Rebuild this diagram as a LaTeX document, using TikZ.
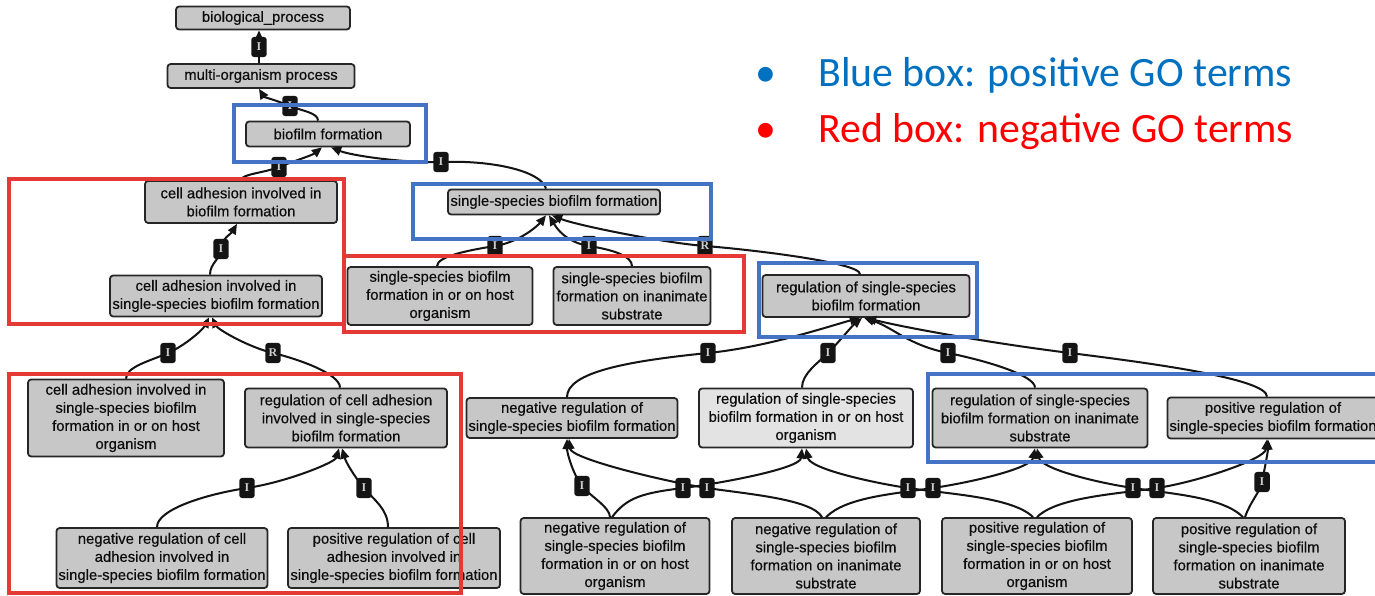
\documentclass[tikz,border=0pt]{standalone}
\usepackage{fontspec}
\usepackage{graphicx}
\setmainfont{Liberation Sans}
\newfontfamily\nodefont[FakeBold=0.45]{Liberation Sans}
\newfontfamily\legendfont{Carlito}
\newfontfamily\labfont{Liberation Serif}
\usetikzlibrary{arrows.meta,calc}
\definecolor{hlblue}{RGB}{68,114,196}
\definecolor{hlred}{RGB}{229,57,53}
\definecolor{txtblue}{RGB}{0,112,192}
\definecolor{txtred}{RGB}{255,0,0}
\def\px{0.02cm}
\tikzset{
  goterm/.style={draw=black!85, line width=1pt, fill=black!22, rounded corners=1.8pt,
    align=center, inner sep=1pt, font=\nodefont\fontsize{8.45}{10.3}\selectfont, text=black!95},
  golight/.style={goterm, fill=black!11},
  lab/.style={fill=black!92, rounded corners=1.6pt, minimum width=8.8pt, minimum height=11.4pt,
    inner sep=0pt, text=white!80!black, font=\labfont\fontsize{6.8}{6.8}\selectfont\bfseries},
  edge/.style={line width=1.15pt, black!92, -{Triangle[length=5.8pt,width=5pt]}},
  hlbox/.style={line width=2.4pt},
  legtext/.style={anchor=base west, font=\legendfont\fontsize{23.8}{28}\selectfont, inner sep=0pt}
}
\begin{document}
\begin{tikzpicture}[x=0.02cm, y=-0.02cm]
\useasboundingbox (0,0) rectangle (1375,595);
\clip (0,0) rectangle (1375,595);
\fill[white] (0,0) rectangle (1375,595);

% ---------- GO term nodes ----------
\node[goterm, minimum width=174*\px, minimum height=23*\px] (n1) at (263,18) {biological\_process};
\node[goterm, minimum width=187*\px, minimum height=24*\px] (n2) at (261,76) {multi-organism process};
\node[goterm, minimum width=164*\px, minimum height=25*\px] (n3) at (328,134) {biofilm formation};
\node[goterm, minimum width=192*\px, minimum height=42*\px] (n4) at (241,202) {cell adhesion involved in\\biofilm formation};
\node[goterm, minimum width=212*\px, minimum height=25*\px] (n5) at (554,202) {single-species biofilm formation};
\node[goterm, minimum width=212*\px, minimum height=41*\px] (n6) at (216,296) {cell adhesion involved in\\single-species biofilm formation};
\node[goterm, minimum width=185*\px, minimum height=58*\px] (n7) at (440,296) {single-species biofilm\\formation in or on host\\organism};
\node[goterm, minimum width=157*\px, minimum height=58*\px] (n8) at (632,296) {single-species biofilm\\formation on inanimate\\substrate};
\node[goterm, minimum width=207*\px, minimum height=42*\px] (n9) at (866,296) {regulation of single-species\\biofilm formation};
\node[goterm, minimum width=196*\px, minimum height=77*\px] (n10) at (126,418) {cell adhesion involved in\\single-species biofilm\\formation in or on host\\organism};
\node[goterm, minimum width=202*\px, minimum height=59*\px] (n11) at (346,418) {regulation of cell adhesion\\involved in single-species\\biofilm formation};
\node[goterm, minimum width=211*\px, minimum height=60*\px] (n12) at (162,558) {negative regulation of cell\\adhesion involved in\\single-species biofilm formation};
\node[goterm, minimum width=212*\px, minimum height=60*\px] (n13) at (394,558) {positive regulation of cell\\adhesion involved in\\single-species biofilm formation};
\node[goterm, minimum width=211*\px, minimum height=40*\px] (n14) at (572,418) {negative regulation of\\single-species biofilm formation};
\node[golight, minimum width=214*\px, minimum height=59*\px] (n15) at (806,418) {regulation of single-species\\biofilm formation in or on host\\organism};
\node[goterm, minimum width=215*\px, minimum height=59*\px] (n16) at (1040,418) {regulation of single-species\\biofilm formation on inanimate\\substrate};
\node[goterm, minimum width=211*\px, minimum height=41*\px] (n17) at (1273,418) {positive regulation of\\single-species biofilm formation};
\node[goterm, minimum width=189*\px, minimum height=76*\px] (n18) at (615,556) {negative regulation of\\single-species biofilm\\formation in or on host\\organism};
\node[goterm, minimum width=188*\px, minimum height=76*\px] (n19) at (826,556) {negative regulation of\\single-species biofilm\\formation on inanimate\\substrate};
\node[goterm, minimum width=190*\px, minimum height=76*\px] (n20) at (1037,556) {positive regulation of\\single-species biofilm\\formation in or on host\\organism};
\node[goterm, minimum width=192*\px, minimum height=76*\px] (n21) at (1249,556) {positive regulation of\\single-species biofilm\\formation on inanimate\\substrate};

% ---------- label positions ----------
\coordinate (l1) at (259,47);
\coordinate (l2) at (290,106);
\coordinate (l3) at (279,167);
\coordinate (l4) at (441,162);
\coordinate (l5) at (221,249);
\coordinate (l6) at (495,246);
\coordinate (l7) at (589,246);
\coordinate (l8) at (705,246);
\coordinate (l9) at (168,353);
\coordinate (l10) at (273,353);
\coordinate (l11) at (247,488);
\coordinate (l12) at (364,488);
\coordinate (l13) at (708,353);
\coordinate (l14) at (828,353);
\coordinate (l15) at (948,353);
\coordinate (l16) at (1070,353);
\coordinate (l17) at (582,486);
\coordinate (l18) at (683,488);
\coordinate (l19) at (707,488);
\coordinate (l20) at (933,488);
\coordinate (l21) at (908,488);
\coordinate (l22) at (1157,488);
\coordinate (l23) at (1133,488);
\coordinate (l24) at (1262,482);

% ---------- edges ----------
\draw[edge] ($(n2.north)+(-2,0)$) -- (l1) -- ($(n1.south)+(-4,0)$);
\draw[edge] ($(n3.north)+(-10,0)$) .. controls +(0,-8) and +(12,5) .. (l2) .. controls +(-12,-5) and +(5,8) .. ($(n2.south)+(-2,0)$);
\draw[edge] (n4.north) .. controls +(0,-6) and +(-15,6) .. (l3) .. controls +(15,-6) and +(-10,8) .. ($(n3.south)+(-6,0)$);
\draw[edge] ($(n5.north)+(-8,0)$) .. controls +(-5,-18) and +(50,-2) .. (l4) .. controls +(-40,1) and +(20,8) .. ($(n3.south)+(3,0)$);
\draw[edge] ($(n6.north)+(-6,0)$) .. controls +(0,-12) and +(0,10) .. (l5) .. controls +(0,-10) and +(-6,10) .. ($(n4.south)+(-4,0)$);
\draw[edge] ($(n7.north)+(-3,0)$) .. controls +(0,-10) and +(-25,4) .. (l6) .. controls +(25,-4) and +(-8,10) .. ($(n5.south)+(-8,0)$);
\draw[edge] (n8.north) .. controls +(0,-10) and +(25,4) .. (l7) .. controls +(-25,-4) and +(6,10) .. ($(n5.south)+(-5,0)$);
\draw[edge] ($(n9.north)+(-6,0)$) .. controls +(0,-12) and +(40,3) .. (l8) .. controls +(-40,-3) and +(25,10) .. ($(n5.south)+(-2,0)$);
\draw[edge] (n10.north) .. controls +(0,-12) and +(-18,8) .. (l9) .. controls +(18,-8) and +(-6,12) .. ($(n6.south)+(-7,0)$);
\draw[edge] ($(n11.north)+(-6,0)$) .. controls +(0,-14) and +(25,6) .. (l10) .. controls +(-25,-6) and +(6,12) .. ($(n6.south)+(-4,0)$);
\draw[edge] ($(n12.north)+(-5,0)$) .. controls +(0,-18) and +(-40,6) .. (l11) .. controls +(40,-6) and +(-4,14) .. ($(n11.south)+(-7,0)$);
\draw[edge] ($(n13.north)+(-6,0)$) .. controls +(0,-18) and +(10,12) .. (l12) .. controls +(-10,-12) and +(4,14) .. ($(n11.south)+(-4,0)$);
\draw[edge] ($(n14.north)+(-5,0)$) .. controls +(0,-25) and +(-80,8) .. (l13) .. controls +(60,-6) and +(-30,8) .. ($(n9.south)+(-6,0)$);
\draw[edge] ($(n15.north)+(-4,0)$) .. controls +(0,-14) and +(-10,10) .. (l14) .. controls +(10,-10) and +(-10,8) .. ($(n9.south)+(-4,0)$);
\draw[edge] ($(n16.north)+(-5,0)$) .. controls +(0,-12) and +(40,8) .. (l15) .. controls +(-40,-8) and +(30,10) .. ($(n9.south)+(-2,0)$);
\draw[edge] ($(n17.north)+(-6,0)$) .. controls +(0,-18) and +(80,10) .. (l16) .. controls +(-80,-10) and +(40,10) .. (n9.south);
\draw[edge] ($(n18.north)+(-5,0)$) .. controls +(0,-10) and +(8,10) .. (l17) .. controls +(-8,-10) and +(0,15) .. ($(n14.south)+(-5,0)$);
\draw[edge] ($(n18.north)+(-3,0)$) .. controls +(15,-20) and +(-40,5) .. (l18) .. controls +(40,-5) and +(-2,20) .. ($(n15.south)+(-4,0)$);
\draw[edge] ($(n19.north)+(-4,0)$) .. controls +(-10,-18) and +(40,6) .. (l19) .. controls +(-40,-6) and +(2,20) .. ($(n14.south)+(-3,0)$);
\draw[edge] (n19.north) .. controls +(20,-20) and +(-40,6) .. (l20) .. controls +(40,-6) and +(-4,20) .. ($(n16.south)+(-5,0)$);
\draw[edge] ($(n20.north)+(-4,0)$) .. controls +(-20,-20) and +(40,6) .. (l21) .. controls +(-40,-6) and +(4,20) .. (n15.south);
\draw[edge] (n20.north) .. controls +(20,-20) and +(-40,6) .. (l22) .. controls +(40,-6) and +(-2,20) .. ($(n17.south)+(-6,0)$);
\draw[edge] ($(n21.north)+(-6,0)$) .. controls +(-20,-20) and +(40,6) .. (l23) .. controls +(-40,-6) and +(4,20) .. ($(n16.south)+(-3,0)$);
\draw[edge] ($(n21.north)+(-4,0)$) .. controls +(5,-15) and +(-2,10) .. (l24) .. controls +(2,-10) and +(0,12) .. ($(n17.south)+(-5,0)$);

% ---------- edge labels ----------
\foreach \c/\t in {l1/I,l2/I,l3/I,l4/I,l5/I,l6/I,l7/I,l8/R,l9/I,l10/R,l11/I,l12/I,l13/I,l14/I,l15/I,l16/I,l17/I,l18/I,l19/I,l20/I,l21/I,l22/I,l23/I,l24/I}
  \node[lab] (t\c) at (\c) {\t};

% ---------- highlight boxes ----------
\draw[hlbox, hlblue] (234,105) rectangle (426,162);
\draw[hlbox, hlblue] (413,184) rectangle (711,239);
\draw[hlbox, hlblue] (759,263) rectangle (977,337);
\draw[hlbox, hlblue] (928,374) rectangle (1390,462);
\draw[hlbox, hlred] (9,179) rectangle (344,324);
\draw[hlbox, hlred] (344,256) rectangle (744,332);
\draw[hlbox, hlred] (9,374) rectangle (461,593);

% ---------- legend ----------
\node[legtext, text=txtblue] (b1) at (755,86) {•};
\node[legtext, text=txtblue] (g1) at (818,86) {Blue box: positive GO terms};
\node[legtext, text=txtred] (b2) at (755,142) {•};
\node[legtext, text=txtred] (g2) at (818,142) {Red box: negative GO terms};
\end{tikzpicture}
\end{document}
